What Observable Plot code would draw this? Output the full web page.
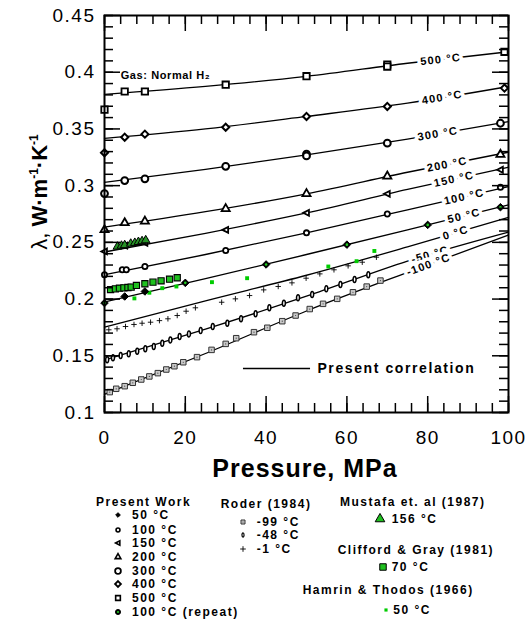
<!DOCTYPE html>
<html><head><meta charset="utf-8">
<script src="https://cdn.jsdelivr.net/npm/d3@7"></script>
<script src="https://cdn.jsdelivr.net/npm/@observablehq/plot@0.6"></script>
<style>
body{margin:0;background:#fff;font-family:"Liberation Sans",Arial,sans-serif}
#wrap{width:528px;position:relative}
#legend{position:relative;width:528px;height:131px;font-weight:bold;font-size:12px;letter-spacing:1.5px;color:#000}
#legend .it{position:absolute;white-space:nowrap;transform:translateY(-50%);line-height:14px}
#legend svg{position:absolute;overflow:visible}
</style></head><body>
<div id="wrap"><div id="chart"></div><div id="legend"></div></div>
<script>
// ---------- data ----------
const lineP = [0, 25, 50, 75, 100];
const lineTemps = ["500 °C","400 °C","300 °C","200 °C","150 °C","100 °C","50 °C","0 °C","-50 °C","-100 °C"];
const corr500 = [0.3805, 0.3875, 0.3963, 0.4079, 0.418];
const corr400 = [0.3416, 0.350, 0.361, 0.3727, 0.3874];
const corr300 = [0.303, 0.3143, 0.3272, 0.341, 0.3565];
const corr200 = [0.2634, 0.277, 0.2928, 0.3118, 0.3295];
const corr150 = [0.2415, 0.258, 0.276, 0.2967, 0.3163];
const corr100 = [0.2214, 0.2393, 0.2584, 0.2787, 0.2992];
const corr50  = [0.1975, 0.218, 0.2393, 0.261, 0.283];
const corr0   = [0.1752, 0.1985, 0.221, 0.246, 0.272];
const corrM50 = [0.1462, 0.1735, 0.2025, 0.2335, 0.259];
const corrM100= [0.116, 0.152, 0.1895, 0.2235, 0.2565];
const lineLabelP = [83.2, 83.6, 82.5, 84.8, 86.5, 89, 89, 86.9, 80.6, 80.2];

// Present work
const pw500 = [[0,0.367],[5,0.383],[10,0.383],[30,0.389],[50,0.3965],[70,0.4068],[70,0.405],[99,0.418]];
const pw400 = [[0,0.329],[5,0.3427],[10,0.3454],[30,0.3515],[50,0.361],[70,0.3698],[99,0.386]];
const pw300 = [[0,0.293],[5,0.3045],[10,0.306],[30,0.317],[50,0.3278],[50,0.3262],[70,0.3374],[98,0.355]];
const pw200 = [[0,0.261],[5,0.2672],[10,0.2686],[30,0.2796],[50,0.2928],[70,0.3083],[98,0.3275]];
const pw150 = [[0,0.242],[5,0.2472],[10,0.2496],[30,0.261],[50,0.276],[70,0.2928],[98,0.314]];
const pw100 = [[0,0.2214],[4.4,0.2258],[5.4,0.2258],[10,0.2287],[30,0.2428],[50,0.2584],[70,0.275],[98,0.2986]];
const pw50  = [[0,0.1965],[5,0.2023],[10,0.2067],[20,0.2143],[40,0.2305],[60,0.248],[80,0.2654],[98,0.281]];
const pwRepeat = [[0,0.1965],[20,0.2143],[40,0.2305],[60,0.248],[80,0.2654],[98,0.281]];
// Roder (1984)
const roderM99 = [[1.3,0.118],[2.9,0.1209],[5,0.1232],[7,0.1262],[9.1,0.1291],[11.1,0.1318],[13.2,0.1347],[15.3,0.1379],[17.3,0.1408],[19.5,0.1443],[22.9,0.1488],[26.5,0.1552],[30,0.1605],[32.6,0.1655],[37,0.1708],[40.3,0.1747],[44,0.1805],[47.3,0.1855],[50.8,0.1912],[54.1,0.1958],[57.6,0.2002],[61.5,0.206],[64.9,0.211],[68.3,0.2163]];
const roderM48 = [[0.66,0.1465],[2.1,0.1482],[4,0.1502],[6,0.1517],[8.1,0.154],[10.1,0.1562],[12.2,0.1582],[14.3,0.1611],[16.3,0.164],[18.6,0.167],[20.9,0.1693],[23.8,0.1722],[26.8,0.1758],[30.4,0.1787],[33.8,0.1826],[37.4,0.187],[40.8,0.1923],[44.4,0.1963],[47.9,0.2011],[51.4,0.204],[54.9,0.209],[58.4,0.2128],[61.9,0.2172],[65.3,0.2214]];
const roderM1 = [[1.07,0.1729],[3.1,0.1738],[5.2,0.1758],[7.3,0.1776],[9.3,0.1787],[11.4,0.1796],[13.6,0.181],[15.7,0.1826],[18,0.1855],[20.2,0.1893],[22.5,0.1923],[29,0.1972],[32.4,0.2002],[35.9,0.2031],[39.4,0.2081],[43,0.2111],[46.4,0.2143],[49.9,0.2184],[53.3,0.2222],[56.8,0.2258],[60.3,0.2293],[63.8,0.2325],[67.3,0.2369]];
// Mustafa et al (1987) 156 °C
const mustafa156 = [[3.2,0.2462],[4.2,0.247],[5.0,0.2475],[6.5,0.2488],[7.5,0.2495],[8.4,0.2503],[9.3,0.251],[10.2,0.2518]];
// Clifford & Gray (1981) 70 °C
const clifford70 = [[1.5,0.2084],[2.7,0.209],[3.7,0.2096],[4.8,0.2099],[5.8,0.2102],[6.6,0.2105],[7.9,0.212],[10,0.2135],[12,0.2149],[14,0.2161],[16.1,0.2175],[18,0.2188]];
// Hamrin & Thodos (1966) 50 °C
const hamrin50 = [[7.4,0.2006],[11.1,0.2056],[14.3,0.2096],[17.8,0.2111],[26.6,0.2149],[35.3,0.2184],[55.4,0.2287],[62.4,0.2334],[66.8,0.2424]];

const xMajor = [0,20,40,60,80,100];
const yMajor = [0.1,0.15,0.2,0.25,0.3,0.35,0.4,0.45];
const xMinor = d3.range(0, 100.001, 4);
const yMinor = d3.range(0, 36).map(i => +(0.1 + i*0.01).toFixed(2));

// ---------- layout ----------
const W = 528, H = 490, mL = 104, mR = 20, mT = 15, mB = 78;
const fw = W - mL - mR, fh = H - mT - mB;
const kx = fw / 100, ky = fh / 0.35;

const corrs = [corr500, corr400, corr300, corr200, corr150, corr100, corr50, corr0, corrM50, corrM100];
const lineRows = corrs.flatMap((vals, i) => vals.map((v, j) => ({P: lineP[j], v, t: lineTemps[i]})));
function interp(vals, p) {
  let j = 0; while (j < lineP.length - 2 && p > lineP[j+1]) j++;
  const f = (p - lineP[j]) / (lineP[j+1] - lineP[j]);
  return vals[j] + f * (vals[j+1] - vals[j]);
}
const labelRows = lineTemps.map((t, i) => {
  const p = lineLabelP[i], vals = corrs[i];
  const slope = (interp(vals, p + 1) - interp(vals, p - 1)) / 2;
  return {t, p, v: interp(vals, p), a: -Math.atan(slope * ky / kx) * 180 / Math.PI};
});

const triLeft = {draw(ctx, size) { const r = Math.sqrt(size / Math.PI) * 1.25;
  ctx.moveTo(-r, 0); ctx.lineTo(r * 0.75, -r * 0.9); ctx.lineTo(r * 0.75, r * 0.9); ctx.closePath(); }};
const ellipse = {draw(ctx, size) { const b = Math.sqrt(size / Math.PI) * 1.3, a = b * 0.5, k = 0.5523;
  ctx.moveTo(0, -b); ctx.bezierCurveTo(a*k, -b, a, -b*k, a, 0); ctx.bezierCurveTo(a, b*k, a*k, b, 0, b);
  ctx.bezierCurveTo(-a*k, b, -a, b*k, -a, 0); ctx.bezierCurveTo(-a, -b*k, -a*k, -b, 0, -b); ctx.closePath(); }};

const X = d => d[0], Y = d => d[1];
const green = "#1fc01f";

const plot = Plot.plot({
  width: W, height: H, marginLeft: mL, marginRight: mR, marginTop: mT, marginBottom: mB,
  x: {domain: [0, 100], label: null},
  y: {domain: [0.1, 0.45], label: null},
  style: {fontFamily: '"Liberation Sans", Arial, sans-serif', fontSize: "19px", background: "white", color: "black", overflow: "visible"},
  marks: [
    Plot.line(lineRows, {x: "P", y: "v", z: "t", curve: "monotone-x", stroke: "black", strokeWidth: 1.3}),
    Plot.text(labelRows, {x: "p", y: "v", text: "t", rotate: "a", fontSize: 11, fontWeight: "bold", fill: "black", stroke: "white", strokeWidth: 7, paintOrder: "stroke"}),
    // Roder
    Plot.dot(roderM99, {x: X, y: Y, symbol: "square", r: 3.1, fill: "#c8c8c8", stroke: "#333", strokeWidth: 1}),
    Plot.dot(roderM99, {x: X, y: Y, r: 0.6, fill: "#444"}),
    Plot.dot(roderM48, {x: X, y: Y, symbol: ellipse, r: 2.3, fill: "white", stroke: "black", strokeWidth: 1.5}),
    Plot.dot(roderM1, {x: X, y: Y, symbol: "plus", r: 1.9, stroke: "black", strokeWidth: 0.9}),
    // Hamrin
    Plot.dot(hamrin50, {x: X, y: Y, symbol: "square", r: 2.2, fill: "#00cc00"}),
    // Present work
    Plot.dot(pw50, {x: X, y: Y, symbol: "diamond2", r: 3.4, fill: "black", stroke: "black", strokeWidth: 1}),
    Plot.dot(pwRepeat, {x: X, y: Y, r: 1.3, fill: "#22cc22"}),
    Plot.dot(pw100, {x: X, y: Y, r: 2.6, fill: "white", stroke: "black", strokeWidth: 1.8}),
    Plot.dot(pw150, {x: X, y: Y, symbol: triLeft, r: 2.6, fill: "white", stroke: "black", strokeWidth: 1.8}),
    Plot.dot(pw200, {x: X, y: Y, symbol: "triangle", r: 3, fill: "white", stroke: "black", strokeWidth: 1.8}),
    Plot.dot(pw300, {x: X, y: Y, r: 3.4, fill: "white", stroke: "black", strokeWidth: 2}),
    Plot.dot(pw400, {x: X, y: Y, symbol: "diamond2", r: 3.2, fill: "white", stroke: "black", strokeWidth: 2}),
    Plot.dot(pw500, {x: X, y: Y, symbol: "square", r: 3.6, fill: "white", stroke: "black", strokeWidth: 1.8}),
    // Mustafa, Clifford
    Plot.dot(mustafa156, {x: X, y: Y, symbol: "triangle", r: 3.2, fill: "#259225", stroke: "black", strokeWidth: 1}),
    Plot.dot(clifford70, {x: X, y: Y, symbol: "square", r: 3.5, fill: green, stroke: "black", strokeWidth: 1.1}),
    // annotations
    Plot.text(["Gas: Normal H₂"], {x: 4, y: 0.397, text: d => d, textAnchor: "start", fontSize: 11, fontWeight: "bold"}),
    Plot.ruleY([0.1388], {x1: 34.4, x2: 51, stroke: "black", strokeWidth: 1.3}),
    Plot.text(["Present correlation"], {x: 52.7, y: 0.1388, text: d => d, textAnchor: "start", fontSize: 14, fontWeight: "bold"}),
    // ticks (inward)
    Plot.tickX(xMinor, {x: d => d, insetTop: fh - 9, stroke: "black", strokeWidth: 1.5}),
    Plot.tickX(xMajor, {x: d => d, insetTop: fh - 16, stroke: "black", strokeWidth: 1.5}),
    Plot.tickX(xMinor, {x: d => d, insetBottom: fh - 9, stroke: "black", strokeWidth: 1.5}),
    Plot.tickX(xMajor, {x: d => d, insetBottom: fh - 16, stroke: "black", strokeWidth: 1.5}),
    Plot.tickY(yMinor, {y: d => d, insetRight: fw - 9, stroke: "black", strokeWidth: 1.5}),
    Plot.tickY(yMajor, {y: d => d, insetRight: fw - 16, stroke: "black", strokeWidth: 1.5}),
    Plot.tickY(yMinor, {y: d => d, insetLeft: fw - 9, stroke: "black", strokeWidth: 1.5}),
    Plot.tickY(yMajor, {y: d => d, insetLeft: fw - 16, stroke: "black", strokeWidth: 1.5}),
    Plot.frame({stroke: "black", strokeWidth: 2}),
    Plot.axisX({ticks: xMajor, tickSize: 0, tickPadding: 18, tickFormat: d => String(d), fontSize: 19, label: null}),
    Plot.axisY({ticks: yMajor, tickSize: 0, tickPadding: 9, tickFormat: d => String(d), fontSize: 19, label: null})
  ]
});
document.getElementById("chart").appendChild(plot);

const svg = d3.select(plot);
const spacing = new Map([["Gas: Normal H₂", "0.6px"], ["Present correlation", "1.6px"]]);
lineTemps.forEach(t => spacing.set(t, "1.2px"));
xMajor.forEach(v => spacing.set(String(v), "1.5px"));
yMajor.forEach(v => spacing.set(String(v), "1.5px"));
svg.selectAll("text").each(function() { const s = spacing.get(this.textContent); if (s) d3.select(this).style("letter-spacing", s); });

const ff = '"Liberation Sans", Arial, sans-serif';
const yt = svg.append("text").attr("transform", "translate(47,192) rotate(-90)").attr("text-anchor", "middle")
  .attr("font-family", ff).attr("fill", "black");
yt.append("tspan").attr("font-size", 22).text("λ, ");
yt.append("tspan").attr("font-size", 22).attr("font-weight", "bold").text("W·m");
yt.append("tspan").attr("font-size", 12).attr("font-weight", "bold").attr("dy", -9).text("-1");
yt.append("tspan").attr("font-size", 22).attr("font-weight", "bold").attr("dy", 9).text("·K");
yt.append("tspan").attr("font-size", 12).attr("font-weight", "bold").attr("dy", -9).text("-1");
svg.append("text").attr("x", 305).attr("y", 477).attr("text-anchor", "middle").attr("font-family", ff)
  .attr("font-size", 25).attr("font-weight", "bold").style("letter-spacing", "1px").attr("fill", "black").text("Pressure, MPa");

// ---------- legend ----------
const off = H - 480;
const legendGroups = ["Present Work", "Roder (1984)", "Mustafa et. al (1987)", "Clifford & Gray (1981)", "Hamrin & Thodos (1966)"];
const pwLabels = ["50 °C", "100 °C", "150 °C", "200 °C", "300 °C", "400 °C", "500 °C", "100 °C (repeat)"];
const roderLabels = ["-99 °C", "-48 °C", "-1 °C"];
const lg = d3.select("#legend");
function item(left, cy, text) { lg.append("div").attr("class", "it").style("left", left + "px").style("top", (cy - off) + "px").text(text); }
function sym(cx, cy, type, size, fill, stroke, sw, extra) {
  const s = lg.append("svg").attr("width", 1).attr("height", 1).style("left", cx + "px").style("top", (cy - off) + "px");
  s.append("path").attr("d", d3.symbol(type, size)()).attr("fill", fill).attr("stroke", stroke).attr("stroke-width", sw);
  if (extra) extra(s);
}
item(96, 21.7, legendGroups[0]);
const pwY = [35, 49.5, 63.3, 77.3, 90.7, 104.3, 117.7, 131.7];
sym(118, pwY[0], d3.symbolDiamond2, 14, "black", "black", 1);
sym(118, pwY[1], d3.symbolCircle, 12, "white", "black", 1.6);
sym(118, pwY[2], triLeft, 12, "white", "black", 1.6);
sym(118, pwY[3], d3.symbolTriangle, 14, "white", "black", 1.6);
sym(118, pwY[4], d3.symbolCircle, 26, "white", "black", 1.8);
sym(118, pwY[5], d3.symbolDiamond2, 22, "white", "black", 1.8);
sym(118, pwY[6], d3.symbolSquare, 22, "white", "black", 1.6);
sym(118, pwY[7], d3.symbolCircle, 20, "black", "black", 1, s => s.append("circle").attr("r", 1.1).attr("fill", "#22cc22"));
pwLabels.forEach((t, i) => item(132, pwY[i], t));

item(220.7, 24, legendGroups[1]);
const rY = [42.3, 55.3, 69];
sym(243.3, rY[0], d3.symbolSquare, 16, "#c8c8c8", "#333", 1, s => s.append("circle").attr("r", 0.6).attr("fill", "#444"));
sym(243.3, rY[1], ellipse, 8, "white", "black", 1.2);
sym(243.3, rY[2], d3.symbolPlus, 12, "none", "black", 0.9);
roderLabels.forEach((t, i) => item(256.7, rY[i], t));

item(340, 21.7, legendGroups[2]);
sym(380, 39, d3.symbolTriangle, 40, green, "black", 1);
item(391.7, 39, "156 °C");
item(337.7, 70, legendGroups[3]);
sym(383.3, 86.7, d3.symbolSquare, 42, green, "black", 1);
item(391.7, 86.7, "70 °C");
item(302.7, 110, legendGroups[4]);
sym(386, 130, d3.symbolSquare, 10, "#00cc00", "none", 0);
item(393.3, 130, "50 °C");
</script></body></html>
